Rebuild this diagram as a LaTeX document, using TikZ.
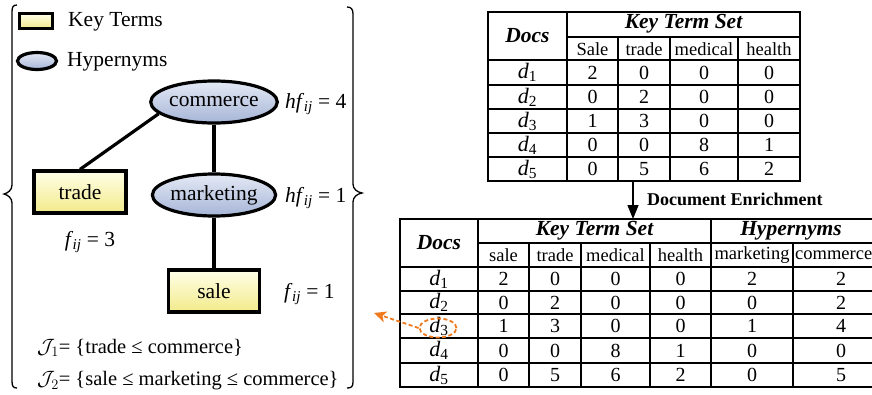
\documentclass[tikz,border=0pt]{standalone}
\usepackage{fontspec}
\setmainfont{Liberation Serif}
\usetikzlibrary{shapes.geometric,arrows.meta}
\definecolor{keytop}{HTML}{FFFFE8}
\definecolor{keybot}{HTML}{F2EA8A}
\definecolor{hyptop}{HTML}{E4E9F5}
\definecolor{hypbot}{HTML}{A6B5D7}
\definecolor{orng}{HTML}{F07A1E}
\newcommand{\dd}[1]{\textit{d}\textsubscript{#1}}
\newcommand{\ssub}[1]{\kern-0.5pt\textsubscript{\textit{#1}}}
\begin{document}
\begin{tikzpicture}[x=1pt,y=-1pt,
  keyterm/.style={draw=black,line width=3.2pt,top color=keytop,bottom color=keybot,inner sep=0pt},
  hyper/.style={ellipse,draw=black,line width=3.2pt,top color=hyptop,bottom color=hypbot,inner sep=0pt},
  lt/.style={inner sep=0pt,font=\fontsize{21.5}{25}\selectfont},
  jt/.style={inner sep=0pt,font=\fontsize{20.5}{24}\selectfont},
  conn/.style={line width=3.2pt},
  brc/.style={line width=1.3pt},
  grid/.style={line width=1.4pt},
  outer/.style={line width=1.8pt},
  num/.style={inner sep=0pt,font=\fontsize{20}{22}\selectfont},
  dnum/.style={inner sep=0pt,font=\fontsize{22}{24}\selectfont},
  sub/.style={inner sep=0pt,font=\fontsize{18.5}{21}\selectfont},
  hdr/.style={inner sep=0pt,font=\fontsize{21.5}{24}\selectfont\bfseries\itshape}]
\useasboundingbox (0,0) rectangle (872,394);
\clip (0,0) rectangle (872,394);

% ---------- braces ----------
\draw[brc] (17,5) .. controls (13,5) and (12,7) .. (12,12) -- (12,185)
  .. controls (12,190) and (8,193) .. (4,194) .. controls (8,195) and (12,198) .. (12,203)
  -- (12,381) .. controls (12,386) and (13,388) .. (17,388);
\draw[brc] (347,7) .. controls (351,7) and (353,9) .. (353,14) -- (353,184)
  .. controls (353,189) and (357,192) .. (362,193) .. controls (357,194) and (353,197) .. (353,202)
  -- (353,382) .. controls (353,387) and (351,388) .. (347,388);

% ---------- legend ----------
\node[keyterm,minimum width=33pt,minimum height=15pt] (legkey) at (36,21) {};
\node[lt,anchor=west] (legkeytxt) at (68,22) {Key Terms};
\node[hyper,minimum width=39pt,minimum height=17pt] (leghyp) at (37,61) {};
\node[lt,anchor=west] (leghyptxt) at (67,62) {Hypernyms};

% ---------- hierarchy ----------
\node[hyper,lt,minimum width=107pt,minimum height=42pt] (commerce) at (214,102) {commerce};
\node[hyper,lt,minimum width=110pt,minimum height=42pt] (marketing) at (214,195) {marketing};
\node[keyterm,lt,minimum width=92pt,minimum height=42pt] (trade) at (80,192) {trade};
\node[keyterm,lt,minimum width=91pt,minimum height=42pt] (sale) at (214,291) {sale};
\draw[conn] (commerce.192) -- (trade.north);
\draw[conn] (commerce.south) -- (marketing.north);
\draw[conn] (marketing.south) -- (sale.north);

\node[lt,anchor=west] (hf4) at (285,104) {\textit{hf}\ssub{ij} = 4};
\node[lt,anchor=west] (hf1) at (285,198) {\textit{hf}\ssub{ij} = 1};
\node[lt] (f3) at (90,242) {\textit{f}\ssub{ij} = 3};
\node[lt,anchor=west] (f1) at (284,294) {\textit{f}\ssub{ij} = 1};
\node[jt,anchor=west] (j1) at (37,348) {$\mathcal{J}_1$= \{trade ≤ commerce\}};
\node[jt,anchor=west] (j2) at (37,381) {$\mathcal{J}_2$= \{sale ≤ marketing ≤ commerce\}};

% ---------- top table ----------
\draw[outer] (488,12) rectangle (800,181);
\draw[grid] (567,37) -- (800,37);
\draw[grid] (488,60) -- (800,60);
\foreach \yy in {85,109,133,157} \draw[grid] (488,\yy) -- (800,\yy);
\draw[grid] (567,12) -- (567,181);
\foreach \xx in {618,670,738} \draw[grid] (\xx,37) -- (\xx,181);
\node[hdr] (tadocs) at (527.5,36) {Docs};
\node[hdr] (takts) at (683.5,24) {Key Term Set};
\node[sub] (tah1) at (592.5,49) {Sale};
\node[sub] (tah2) at (644,49) {trade};
\node[sub] (tah3) at (704,49) {medical};
\node[sub] (tah4) at (769,49) {health};
\foreach \r/\yy/\a/\b/\c/\d in {1/72.5/2/0/0/0,2/97/0/2/0/0,3/121/1/3/0/0,4/145/0/0/8/1,5/169/0/5/6/2}{
  \node[dnum] (ta-d\r) at (527.5,\yy) {\dd{\r}};
  \node[num] (ta-\r-1) at (592.5,\yy) {\a};
  \node[num] (ta-\r-2) at (644,\yy) {\b};
  \node[num] (ta-\r-3) at (704,\yy) {\c};
  \node[num] (ta-\r-4) at (769,\yy) {\d};
}

% ---------- arrow ----------
\coordinate (arrtop) at (633,181);
\coordinate (arrbot) at (633,219);
\draw[line width=1.4pt,-{Triangle[width=11pt,length=14pt]}] (arrtop) -- (arrbot);
\node[inner sep=0pt,anchor=west,font=\fontsize{18}{21}\selectfont\bfseries] (enrich) at (647,199) {Document Enrichment};

% ---------- bottom table ----------
\draw[outer] (400,219) rectangle (888,387);
\draw[grid] (478,243) -- (888,243);
\draw[grid] (400,267) -- (888,267);
\foreach \yy in {291,314,338,363} \draw[grid] (400,\yy) -- (888,\yy);
\draw[grid] (478,219) -- (478,387);
\draw[grid] (711,219) -- (711,387);
\foreach \xx in {529,581,650,793} \draw[grid] (\xx,243) -- (\xx,387);
\node[hdr] (tbdocs) at (439,243) {Docs};
\node[hdr] (tbkts) at (594.5,231) {Key Term Set};
\node[hdr] (tbhyp) at (791,231) {Hypernyms};
\node[sub] (tbh1) at (503.5,255) {sale};
\node[sub] (tbh2) at (555,255) {trade};
\node[sub] (tbh3) at (615.5,255) {medical};
\node[sub] (tbh4) at (680.5,255) {health};
\node[sub] (tbh5) at (752,255) {marketing};
\node[sub,anchor=west] (tbh6) at (795,255) {commerce};
\foreach \r/\yy/\a/\b/\c/\d/\e/\f in {1/279/2/0/0/0/2/2,2/302.5/0/2/0/0/0/2,3/326/1/3/0/0/1/4,4/350.5/0/0/8/1/0/0,5/375/0/5/6/2/0/5}{
  \node[dnum] (tb-d\r) at (439,\yy) {\dd{\r}};
  \node[num] (tb-\r-1) at (503.5,\yy) {\a};
  \node[num] (tb-\r-2) at (555,\yy) {\b};
  \node[num] (tb-\r-3) at (615.5,\yy) {\c};
  \node[num] (tb-\r-4) at (680.5,\yy) {\d};
  \node[num] (tb-\r-5) at (752,\yy) {\e};
  \node[num] (tb-\r-6) at (841,\yy) {\f};
}

% ---------- orange highlight ----------
\node[ellipse,draw=orng,line width=1.8pt,dash pattern=on 4pt off 2.5pt,minimum width=37pt,minimum height=19pt,inner sep=0pt] (d3ring) at (438,328) {};
\coordinate (orngtip) at (374,313);
\draw[orng,line width=1.8pt,dash pattern=on 4pt off 2.5pt,-{Stealth[length=12pt,width=11pt,inset=3pt]}] (d3ring.west) -- (orngtip);
\end{tikzpicture}
\end{document}
